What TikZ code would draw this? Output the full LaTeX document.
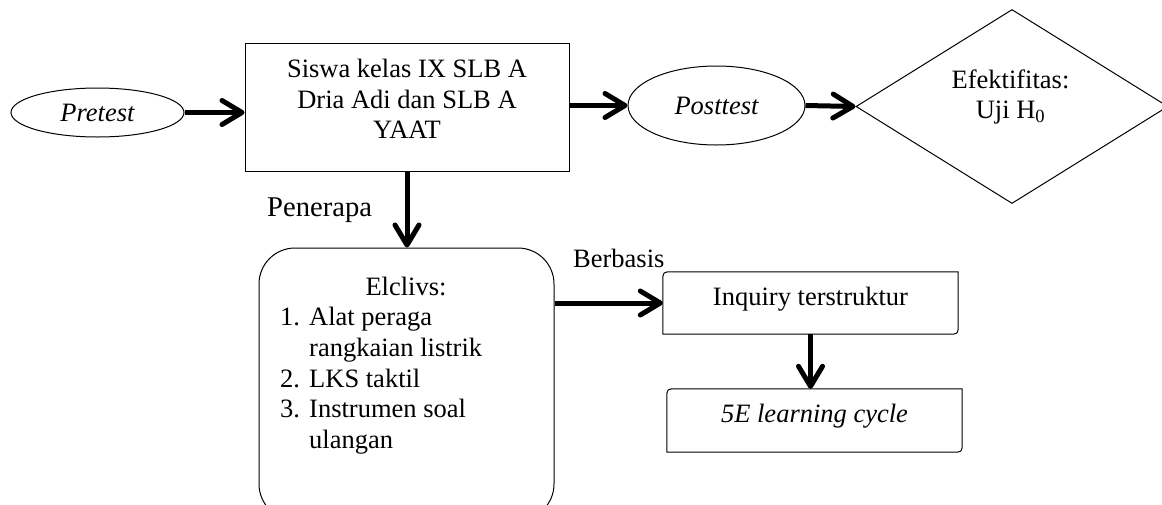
\documentclass[tikz,border=0pt]{standalone}
\usepackage{fontspec}
\setmainfont{Liberation Serif}
\usetikzlibrary{arrows.meta,shapes.geometric}
\begin{document}
\begin{tikzpicture}[x=1pt,y=-1pt,
  txt/.style={font=\fontsize{26.5}{30.6}\selectfont, inner sep=0pt},
  ittxt/.style={font=\fontsize{26.5}{30.6}\selectfont\itshape, inner sep=0pt},
  bigtxt/.style={font=\fontsize{28.6}{33}\selectfont, inner sep=0pt},
  outline/.style={draw, line width=1pt, inner sep=0pt},
  ell/.style={outline, ellipse},
  thickarrow/.style={line width=5pt, -{Straight Barb[length=20pt, width=24pt, round]}},
]
\useasboundingbox (0,0) rectangle (1162,504);
\clip (0,0) rectangle (1162,504);

% shapes
\node[ell, minimum width=173pt, minimum height=49pt] (pre) at (97.5,112.5) {};
\node[ittxt] (pretxt) at (97.5,112.5) {Pretest};

\node[outline, minimum width=324pt, minimum height=128pt] (siswa) at (407,107) {};
\node[txt, align=center] (siswatxt) at (407,99) {Siswa kelas IX SLB A\\Dria Adi dan SLB A\\YAAT};

\node[ell, minimum width=177pt, minimum height=79pt] (post) at (716.5,105.5) {};
\node[ittxt] (posttxt) at (716.5,105.5) {Posttest};

\node[outline, diamond, minimum width=312pt, minimum height=194pt] (dia) at (1012,106.5) {};
\node[txt, align=center, font=\fontsize{26.5}{30}\selectfont] (diatxt) at (1010.5,97) {Efektifitas:\\Uji H\textsubscript{0}};

\node[outline, rounded corners=36pt, minimum width=295pt, minimum height=272pt] (elc) at (406.5,384) {};
\node[txt, anchor=base] (elctitle) at (406,295) {Elclivs:};
\node[txt, align=left, anchor=west] (elclist) at (280,380.7)
  {\makebox[29pt][l]{1.}Alat peraga\\\hspace*{29pt}rangkaian listrik\\\makebox[29pt][l]{2.}LKS taktil\\\makebox[29pt][l]{3.}Instrumen soal\\\hspace*{29pt}ulangan};

\node[bigtxt, anchor=base west] (pen) at (267,216) {Penerapa};
\node[txt, anchor=base west] (berb) at (573,267) {Berbasis};

\node[inner sep=0pt, minimum width=295pt, minimum height=62pt] (inq) at (810.5,303) {};
\draw[line width=1pt] (inq.south west) -- ([yshift=-10pt]inq.north west) .. controls (inq.north west) .. ([xshift=10pt]inq.north west) -- (inq.north east) -- ([yshift=10pt]inq.south east) .. controls (inq.south east) .. ([xshift=-10pt]inq.south east) -- cycle;
\node[txt, anchor=base] (inqtxt) at (810.5,305) {Inquiry terstruktur};

\node[inner sep=0pt, minimum width=295pt, minimum height=63pt] (fivee) at (814.5,420.5) {};
\draw[line width=1pt] (fivee.south west) -- ([yshift=-10pt]fivee.north west) .. controls (fivee.north west) .. ([xshift=10pt]fivee.north west) -- (fivee.north east) -- ([yshift=10pt]fivee.south east) .. controls (fivee.south east) .. ([xshift=-10pt]fivee.south east) -- cycle;
\node[ittxt, anchor=base] (fivetxt) at (814.5,422) {5E learning cycle};

% connectors
\draw[thickarrow] (pre.east) -- (siswa.west |- pre.east);
\draw[thickarrow] (siswa.east |- post.west) -- (post.west);
\draw[thickarrow] (post.east) -- (dia.west);
\draw[thickarrow] (siswa.south) -- (siswa.south |- elc.north);
\draw[thickarrow] (elc.east |- inq.west) -- (inq.west);
\draw[thickarrow] (inq.south) -- (inq.south |- fivee.north);
\end{tikzpicture}
\end{document}
